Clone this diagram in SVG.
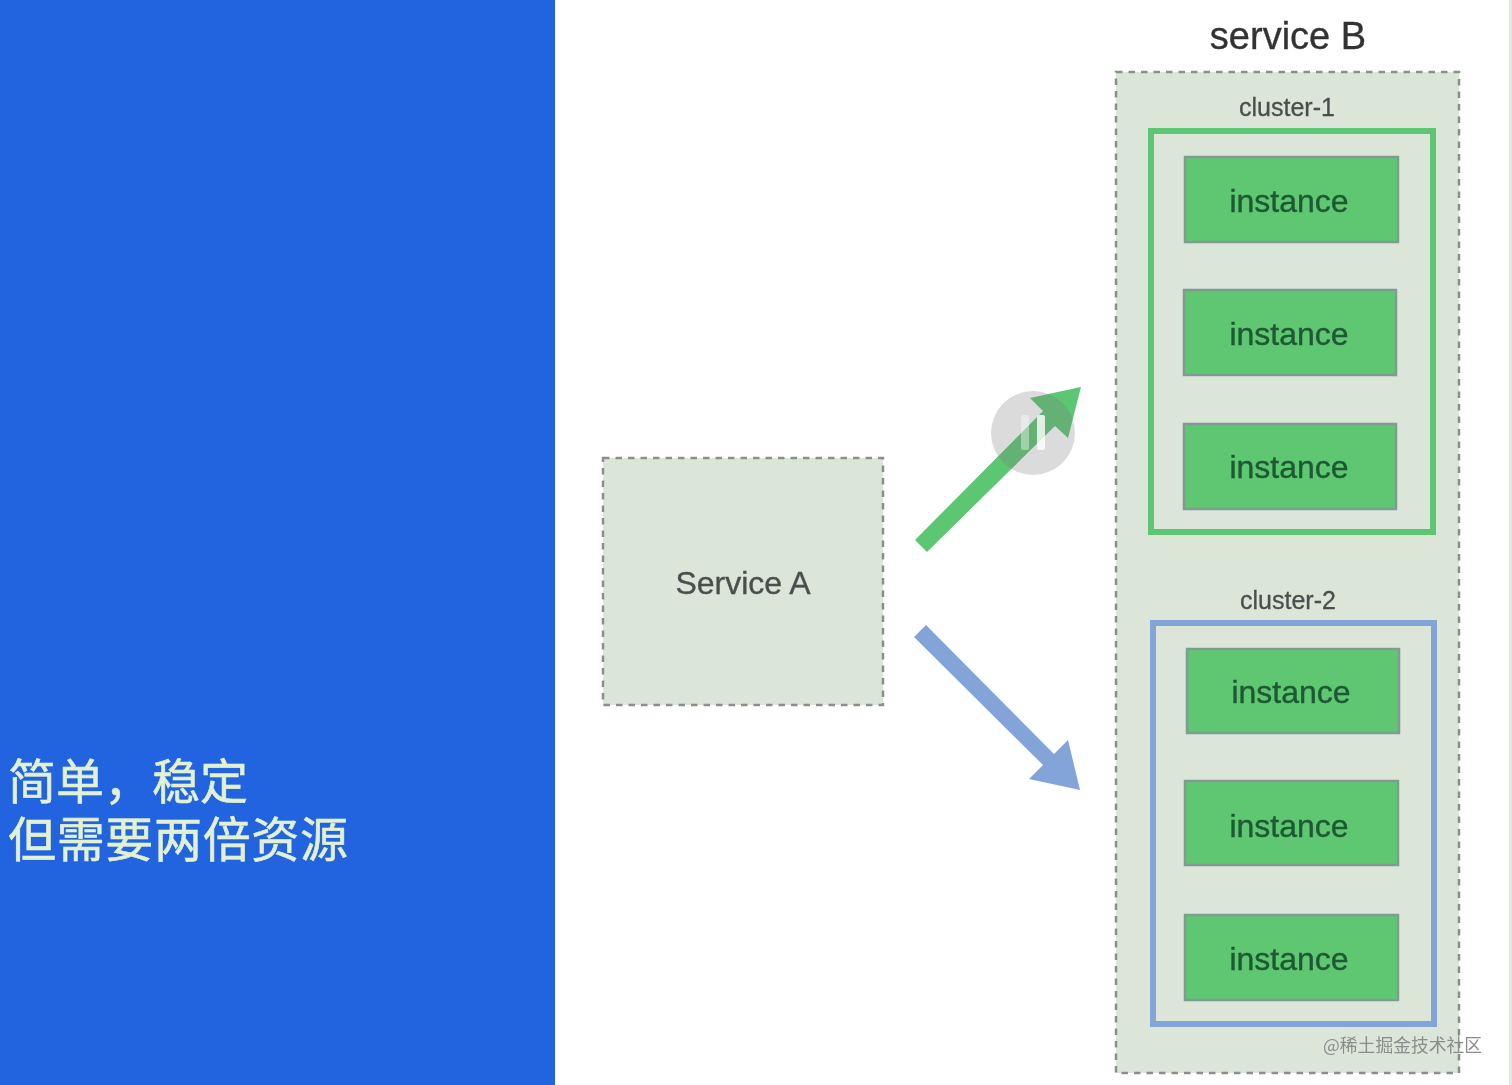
<svg xmlns="http://www.w3.org/2000/svg" width="1512" height="1085" viewBox="0 0 1512 1085">
<defs><filter id="soft" x="0" y="0" width="100%" height="100%"><feGaussianBlur stdDeviation="0.6"/></filter></defs>
<style>
.title{font-family:"Liberation Sans",sans-serif;stroke-width:.35}
.dash{fill:#dbe6d9;stroke:#8a8f8c;stroke-width:2.5;stroke-dasharray:6.5 6}
.inst{fill:#5fc672;stroke:#7f9c92;stroke-width:2.5}
.instT{font-family:"Liberation Sans",sans-serif;font-size:32px;fill:#1d5a32;stroke:#1d5a32;stroke-width:.4;text-anchor:middle}
.lab{font-family:"Liberation Sans",sans-serif;font-size:25px;fill:#4a4f4d;stroke:#4a4f4d;stroke-width:.3;text-anchor:middle}
.cn{font-family:"Noto Sans CJK SC",sans-serif;font-size:48px;fill:#e2f1d2;stroke:#e2f1d2;stroke-width:.6}
</style>
<g filter="url(#soft)">
<rect width="1512" height="1085" fill="#fff"/>
<rect id="panel" x="0" y="0" width="555" height="1085" fill="#2163e0"/>
<rect x="1509" y="0" width="3" height="1085" fill="#e4e6ea"/>
<g id="caption">
<text class="cn" x="8" y="799">简单，稳定</text>
<text class="cn" x="8" y="857" textLength="340">但需要两倍资源</text>
</g>
<text id="service-b-title" class="title" x="1288" y="49" font-size="38" fill="#333" stroke="#333" text-anchor="middle">service B</text>
<g id="service-a">
<rect class="dash" x="603" y="458" width="280" height="247"/>
<text class="title" x="743" y="594" font-size="32" fill="#4a4f4d" stroke="#4a4f4d" text-anchor="middle">Service A</text>
</g>
<g id="service-b">
<rect class="dash" x="1116" y="72" width="343" height="1001"/>
</g>
<g id="cluster-1">
<text class="lab" x="1287" y="116">cluster-1</text>
<rect x="1151" y="131" width="282" height="401" fill="none" stroke="#5cc672" stroke-width="6"/>
</g>
<g id="cluster-2">
<text class="lab" x="1288" y="609">cluster-2</text>
<rect x="1153" y="623" width="281" height="401" fill="none" stroke="#82a4d8" stroke-width="6"/>
</g>
<g id="instance-1"><rect class="inst" x="1185" y="157" width="213" height="85"/><text class="instT" x="1289" y="212">instance</text></g>
<g id="instance-2"><rect class="inst" x="1184" y="290" width="212" height="85"/><text class="instT" x="1289" y="345">instance</text></g>
<g id="instance-3"><rect class="inst" x="1184" y="424" width="212" height="85"/><text class="instT" x="1289" y="478">instance</text></g>
<g id="instance-4"><rect class="inst" x="1187" y="649" width="212" height="84"/><text class="instT" x="1291" y="703">instance</text></g>
<g id="instance-5"><rect class="inst" x="1185" y="781" width="213" height="84"/><text class="instT" x="1289" y="837">instance</text></g>
<g id="instance-6"><rect class="inst" x="1185" y="915" width="213" height="85"/><text class="instT" x="1289" y="970">instance</text></g>
<g id="connectors">
<polygon points="915,540 1043,411 1030,398 1081,387 1068,438 1055,426 927,552" fill="#5cc672"/>
<polygon points="914,637 926,625 1054,754 1068,740 1080,790 1029,779 1043,765" fill="#82a4d8"/>
</g>
<g id="pause-overlay">
<circle cx="1033" cy="433" r="42" fill="#7a7a7a" fill-opacity="0.27"/>
<rect x="1021" y="415" width="8" height="35" rx="2" fill="#fff" fill-opacity="0.4"/>
<rect x="1037" y="415" width="8" height="35" rx="2" fill="#fff" fill-opacity="0.8"/>
</g>
<text id="watermark" x="1323" y="1052" font-size="17.8" fill="#8a8d8c" style="font-family:'Noto Sans CJK SC',sans-serif">@稀土掘金技术社区</text>
</g>
</svg>
